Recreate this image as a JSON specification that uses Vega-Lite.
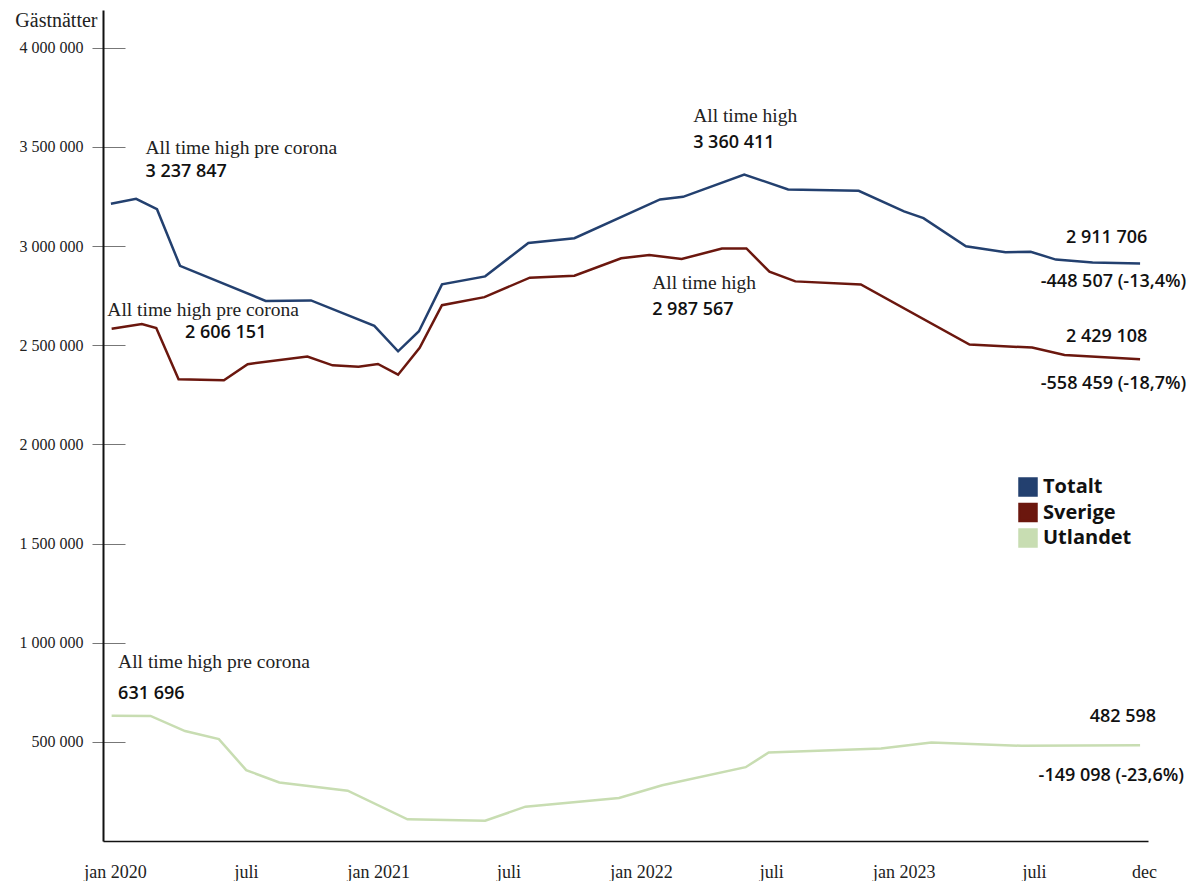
{
  "$schema": "https://vega.github.io/schema/vega-lite/v6.json",
  "autosize": "none",
  "padding": {"left": 103, "top": 10, "right": 46, "bottom": 40},
  "width": 1045,
  "height": 831,
  "background": "white",
  "config": {
    "view": {"stroke": null},
    "locale": {"number": {"decimal": ",", "thousands": " ", "grouping": [3], "currency": ["", " kr"]}}
  },
  "datasets": {
    "series": [
      {"series": "Totalt", "date": "2020-01-01T00:00:00", "value": 3212600},
      {"series": "Totalt", "date": "2020-02-05T00:00:00", "value": 3237847},
      {"series": "Totalt", "date": "2020-03-05T00:00:00", "value": 3185800},
      {"series": "Totalt", "date": "2020-04-06T00:00:00", "value": 2900100},
      {"series": "Totalt", "date": "2020-08-03T00:00:00", "value": 2723100},
      {"series": "Totalt", "date": "2020-10-05T00:00:00", "value": 2725600},
      {"series": "Totalt", "date": "2021-01-01T00:00:00", "value": 2597600},
      {"series": "Totalt", "date": "2021-02-03T00:00:00", "value": 2469200},
      {"series": "Totalt", "date": "2021-03-04T00:00:00", "value": 2570300},
      {"series": "Totalt", "date": "2021-04-05T00:00:00", "value": 2806500},
      {"series": "Totalt", "date": "2021-06-04T00:00:00", "value": 2847000},
      {"series": "Totalt", "date": "2021-08-03T00:00:00", "value": 3015400},
      {"series": "Totalt", "date": "2021-10-06T00:00:00", "value": 3039200},
      {"series": "Totalt", "date": "2022-02-02T00:00:00", "value": 3234900},
      {"series": "Totalt", "date": "2022-03-06T00:00:00", "value": 3248000},
      {"series": "Totalt", "date": "2022-05-30T00:00:00", "value": 3360411},
      {"series": "Totalt", "date": "2022-07-30T00:00:00", "value": 3285500},
      {"series": "Totalt", "date": "2022-11-05T00:00:00", "value": 3278400},
      {"series": "Totalt", "date": "2023-01-07T00:00:00", "value": 3174200},
      {"series": "Totalt", "date": "2023-02-03T00:00:00", "value": 3140300},
      {"series": "Totalt", "date": "2023-04-03T00:00:00", "value": 2998700},
      {"series": "Totalt", "date": "2023-05-28T00:00:00", "value": 2968400},
      {"series": "Totalt", "date": "2023-07-02T00:00:00", "value": 2970900},
      {"series": "Totalt", "date": "2023-08-06T00:00:00", "value": 2931500},
      {"series": "Totalt", "date": "2023-09-26T00:00:00", "value": 2916800},
      {"series": "Totalt", "date": "2023-12-01T00:00:00", "value": 2911706},
      {"series": "Sverige", "date": "2020-01-02T00:00:00", "value": 2582500},
      {"series": "Sverige", "date": "2020-02-13T00:00:00", "value": 2606151},
      {"series": "Sverige", "date": "2020-03-04T00:00:00", "value": 2586500},
      {"series": "Sverige", "date": "2020-04-04T00:00:00", "value": 2328600},
      {"series": "Sverige", "date": "2020-06-06T00:00:00", "value": 2323500},
      {"series": "Sverige", "date": "2020-07-09T00:00:00", "value": 2404400},
      {"series": "Sverige", "date": "2020-09-30T00:00:00", "value": 2442400},
      {"series": "Sverige", "date": "2020-11-04T00:00:00", "value": 2398400},
      {"series": "Sverige", "date": "2020-12-10T00:00:00", "value": 2391800},
      {"series": "Sverige", "date": "2021-01-06T00:00:00", "value": 2405400},
      {"series": "Sverige", "date": "2021-02-03T00:00:00", "value": 2351300},
      {"series": "Sverige", "date": "2021-03-05T00:00:00", "value": 2486400},
      {"series": "Sverige", "date": "2021-04-05T00:00:00", "value": 2701800},
      {"series": "Sverige", "date": "2021-06-03T00:00:00", "value": 2742300},
      {"series": "Sverige", "date": "2021-08-05T00:00:00", "value": 2840400},
      {"series": "Sverige", "date": "2021-10-06T00:00:00", "value": 2850500},
      {"series": "Sverige", "date": "2021-12-10T00:00:00", "value": 2938000},
      {"series": "Sverige", "date": "2022-01-18T00:00:00", "value": 2954700},
      {"series": "Sverige", "date": "2022-03-04T00:00:00", "value": 2934500},
      {"series": "Sverige", "date": "2022-04-29T00:00:00", "value": 2987000},
      {"series": "Sverige", "date": "2022-06-02T00:00:00", "value": 2987567},
      {"series": "Sverige", "date": "2022-07-04T00:00:00", "value": 2870700},
      {"series": "Sverige", "date": "2022-08-09T00:00:00", "value": 2821700},
      {"series": "Sverige", "date": "2022-11-08T00:00:00", "value": 2806500},
      {"series": "Sverige", "date": "2023-04-08T00:00:00", "value": 2503100},
      {"series": "Sverige", "date": "2023-07-04T00:00:00", "value": 2487900},
      {"series": "Sverige", "date": "2023-08-18T00:00:00", "value": 2451000},
      {"series": "Sverige", "date": "2023-12-01T00:00:00", "value": 2429108},
      {"series": "Utlandet", "date": "2020-01-02T00:00:00", "value": 631696},
      {"series": "Utlandet", "date": "2020-02-25T00:00:00", "value": 630500},
      {"series": "Utlandet", "date": "2020-04-13T00:00:00", "value": 554300},
      {"series": "Utlandet", "date": "2020-05-30T00:00:00", "value": 513900},
      {"series": "Utlandet", "date": "2020-07-07T00:00:00", "value": 357100},
      {"series": "Utlandet", "date": "2020-08-22T00:00:00", "value": 295400},
      {"series": "Utlandet", "date": "2020-11-25T00:00:00", "value": 253900},
      {"series": "Utlandet", "date": "2021-02-16T00:00:00", "value": 109200},
      {"series": "Utlandet", "date": "2021-06-04T00:00:00", "value": 102200},
      {"series": "Utlandet", "date": "2021-07-30T00:00:00", "value": 173000},
      {"series": "Utlandet", "date": "2021-12-07T00:00:00", "value": 217000},
      {"series": "Utlandet", "date": "2022-02-05T00:00:00", "value": 281200},
      {"series": "Utlandet", "date": "2022-06-01T00:00:00", "value": 372200},
      {"series": "Utlandet", "date": "2022-07-03T00:00:00", "value": 446100},
      {"series": "Utlandet", "date": "2022-12-06T00:00:00", "value": 466300},
      {"series": "Utlandet", "date": "2023-02-14T00:00:00", "value": 496700},
      {"series": "Utlandet", "date": "2023-06-19T00:00:00", "value": 480000},
      {"series": "Utlandet", "date": "2023-12-01T00:00:00", "value": 482598}
    ],
    "notes": [
      {"kind": "serif", "date": "2020-02-18T00:00:00", "value": 3494300, "label": "All time high pre corona"},
      {"kind": "sans", "date": "2020-02-18T00:00:00", "value": 3373000, "label": "3 237 847"},
      {"kind": "serif", "date": "2019-12-27T00:00:00", "value": 2678000, "label": "All time high pre corona"},
      {"kind": "sans", "date": "2020-04-13T00:00:00", "value": 2561800, "label": "2 606 151"},
      {"kind": "serif", "date": "2022-03-20T00:00:00", "value": 3656300, "label": "All time high"},
      {"kind": "sans", "date": "2022-03-20T00:00:00", "value": 3519700, "label": "3 360 411"},
      {"kind": "serif", "date": "2022-01-22T00:00:00", "value": 2812800, "label": "All time high"},
      {"kind": "sans", "date": "2022-01-22T00:00:00", "value": 2676200, "label": "2 987 567"},
      {"kind": "sans", "date": "2023-08-20T00:00:00", "value": 3038300, "label": "2 911 706"},
      {"kind": "sans", "date": "2023-07-16T00:00:00", "value": 2816600, "label": "-448 507 (-13,4%)"},
      {"kind": "sans", "date": "2023-08-20T00:00:00", "value": 2541700, "label": "2 429 108"},
      {"kind": "sans", "date": "2023-07-16T00:00:00", "value": 2304000, "label": "-558 459 (-18,7%)"},
      {"kind": "serif", "date": "2020-01-11T00:00:00", "value": 904800, "label": "All time high pre corona"},
      {"kind": "sans", "date": "2020-01-11T00:00:00", "value": 743000, "label": "631 696"},
      {"kind": "sans", "date": "2023-09-22T00:00:00", "value": 626700, "label": "482 598"},
      {"kind": "sans", "date": "2023-07-13T00:00:00", "value": 328200, "label": "-149 098 (-23,6%)"}
    ]
  },
  "encoding": {
    "x": {
      "field": "date",
      "type": "temporal",
      "scale": {"domain": [{"year": 2019, "month": 12, "date": 21}, {"year": 2023, "month": 12, "date": 12}]},
      "axis": {
        "title": null,
        "values": [
          {"year": 2020, "month": 1, "date": 1}, {"year": 2020, "month": 7, "date": 1},
          {"year": 2021, "month": 1, "date": 1}, {"year": 2021, "month": 7, "date": 1},
          {"year": 2022, "month": 1, "date": 1}, {"year": 2022, "month": 7, "date": 1},
          {"year": 2023, "month": 1, "date": 1}, {"year": 2023, "month": 7, "date": 1},
          {"year": 2023, "month": 12, "date": 1}
        ],
        "labelExpr": "month(datum.value) == 0 ? 'jan ' + year(datum.value) : (month(datum.value) == 6 ? 'juli' : 'dec')",
        "ticks": false,
        "grid": false,
        "domainColor": "#111111",
        "domainWidth": 1.5,
        "labelFont": "Liberation Serif",
        "labelFontSize": 18,
        "labelColor": "#222222",
        "labelPadding": 22,
        "labelOffset": 4,
        "labelFlush": false,
        "labelOverlap": false
      }
    }
  },
  "layer": [
    {
      "data": {"name": "series"},
      "mark": {"type": "line", "strokeWidth": 2.5, "strokeJoin": "miter"},
      "encoding": {
        "y": {
          "field": "value",
          "type": "quantitative",
          "scale": {"domain": [0, 4190000], "nice": false, "zero": true},
          "axis": {
            "orient": "left",
            "offset": -22,
            "domain": false,
            "grid": false,
            "title": null,
            "values": [500000, 1000000, 1500000, 2000000, 2500000, 3000000, 3500000, 4000000],
            "format": ",d",
            "tickSize": 33,
            "tickColor": "#777777",
            "tickWidth": 1.2,
            "labelPadding": 9,
            "labelFont": "Liberation Serif",
            "labelFontSize": 16,
            "labelColor": "#222222"
          }
        },
        "color": {
          "field": "series",
          "type": "nominal",
          "scale": {"domain": ["Totalt", "Sverige", "Utlandet"], "range": ["#23406f", "#6b170e", "#c8ddb2"]},
          "legend": {
            "title": null,
            "orient": "none",
            "legendX": 915,
            "legendY": 467,
            "symbolType": "square",
            "symbolSize": 289,
            "symbolStrokeWidth": 0,
            "labelFont": "Open Sans",
            "labelFontSize": 20,
            "labelFontWeight": "bold",
            "labelColor": "#111111",
            "labelOffset": 5,
            "rowPadding": -2.5,
            "encode": {"symbols": {"update": {"fill": {"scale": "color", "field": "value"}, "fillOpacity": {"value": 1}}}}
          }
        },
        "strokeWidth": {
          "field": "series",
          "type": "nominal",
          "scale": {"domain": ["Totalt", "Sverige", "Utlandet"], "range": [2.5, 2.5, 3]},
          "legend": null
        }
      }
    },
    {
      "data": {"name": "notes"},
      "transform": [{"filter": "datum.kind == 'serif'"}],
      "mark": {"type": "text", "align": "left", "baseline": "middle", "font": "Liberation Serif", "fontSize": 19.5, "color": "#222222"},
      "encoding": {
        "y": {
          "field": "value",
          "type": "quantitative",
          "axis": {
            "orient": "left",
            "domain": true,
            "domainColor": "#111111",
            "domainWidth": 2,
            "ticks": false,
            "labels": false,
            "grid": false,
            "title": "Gästnätter",
            "titleAngle": 0,
            "titleAlign": "right",
            "titleBaseline": "middle",
            "titleX": -6,
            "titleY": 10,
            "titleFont": "Liberation Serif",
            "titleFontSize": 20,
            "titleFontWeight": "normal",
            "titleColor": "#222222"
          }
        },
        "text": {"field": "label"}
      }
    },
    {
      "data": {"name": "notes"},
      "transform": [{"filter": "datum.kind == 'sans'"}],
      "mark": {"type": "text", "align": "left", "baseline": "middle", "font": "Open Sans", "fontSize": 18, "fontWeight": 600, "color": "#111111"},
      "encoding": {
        "y": {"field": "value", "type": "quantitative", "axis": null},
        "text": {"field": "label"}
      }
    }
  ],
  "resolve": {"axis": {"y": "independent"}}
}
